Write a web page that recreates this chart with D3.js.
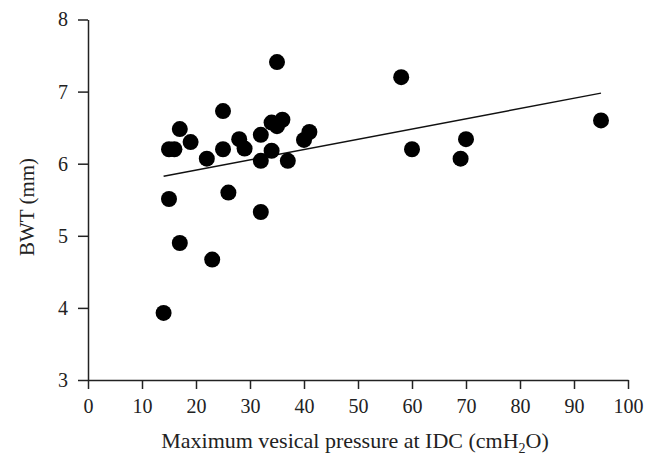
<html>
<head>
<meta charset="utf-8">
<style>
  body { margin: 0; background: #fff; }
  text { font-family: "Liberation Serif", "DejaVu Serif", serif; fill: #222; }
</style>
</head>
<body>
<script src="https://cdn.jsdelivr.net/npm/d3@7"></script>
<script>
// maximum vesical pressure at IDC (cmH2O)
var pressure = [14, 15, 15, 16, 17, 17, 19, 22, 23, 25, 25, 26, 28, 29, 32, 32, 32, 34, 34, 35, 35, 36, 37, 40, 41, 58, 60, 69, 70, 95];
// bladder wall thickness (mm)
var bwt      = [3.93, 6.2, 5.51, 6.2, 6.48, 4.9, 6.3, 6.07, 4.67, 6.73, 6.2, 5.6, 6.34, 6.21, 6.4, 6.04, 5.33, 6.18, 6.57, 6.52, 7.41, 6.61, 6.04, 6.33, 6.44, 7.2, 6.2, 6.07, 6.34, 6.6];
// fitted line
var fitFrom = 14, fitTo = 95, fitIntercept = 5.627, fitSlope = 0.01423;
var xTicks = [0, 10, 20, 30, 40, 50, 60, 70, 80, 90, 100];
var yTicks = [3, 4, 5, 6, 7, 8];

var width = 657, height = 472;
var margin = {left: 88, right: 29, top: 19.5, bottom: 92};

var svg = d3.select("body").append("svg")
    .attr("width", width)
    .attr("height", height);

var x = d3.scaleLinear().domain([0, 100]).range([margin.left, width - margin.right]);
var y = d3.scaleLinear().domain([3, 8]).range([height - margin.bottom, margin.top]);

var gx = svg.append("g")
    .attr("transform", "translate(0," + (height - margin.bottom) + ")")
    .call(d3.axisBottom(x).tickValues(xTicks).tickFormat(d3.format("d"))
          .tickSize(9).tickPadding(10).tickSizeOuter(0));
var gy = svg.append("g")
    .attr("transform", "translate(" + margin.left + ",0)")
    .call(d3.axisLeft(y).tickValues(yTicks).tickFormat(d3.format("d"))
          .tickSize(10).tickPadding(10).tickSizeOuter(0));

[gx, gy].forEach(function(g) {
  g.selectAll("path, line").attr("stroke", "#222").attr("stroke-width", 1.5);
  g.selectAll("text").attr("font-size", 20).attr("font-family", "Liberation Serif").attr("fill", "#222");
});

// regression line
svg.append("line")
    .attr("x1", x(fitFrom)).attr("y1", y(fitIntercept + fitSlope * fitFrom))
    .attr("x2", x(fitTo)).attr("y2", y(fitIntercept + fitSlope * fitTo))
    .attr("stroke", "#111").attr("stroke-width", 1.5);

svg.selectAll("circle")
    .data(pressure)
    .join("circle")
    .attr("cx", d => x(d))
    .attr("cy", (d, i) => y(bwt[i]))
    .attr("r", 8)
    .attr("fill", "#000");

// axis titles
var xt = svg.append("text")
    .attr("x", 355)
    .attr("y", 448)
    .attr("text-anchor", "middle")
    .attr("font-size", 22);
xt.append("tspan").text("Maximum vesical pressure at IDC (cmH");
xt.append("tspan").attr("font-size", 14).attr("dy", 5).text("2");
xt.append("tspan").attr("dy", -5).text("O)");

svg.append("text")
    .attr("transform", "translate(34,207) rotate(-90)")
    .attr("text-anchor", "middle")
    .attr("font-size", 21)
    .text("BWT (mm)");
</script>
</body>
</html>
